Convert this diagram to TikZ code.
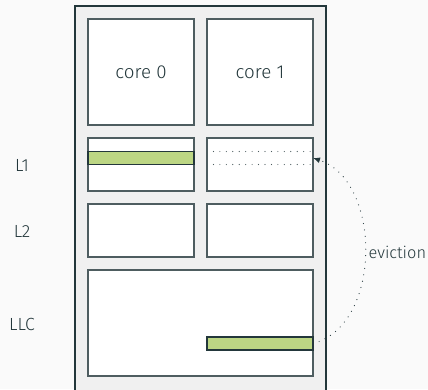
\documentclass[tikz,border=0pt]{standalone}
\usepackage{fontspec}
\setmainfont{Fira Sans}[UprightFont=* Light]
\usepackage{tikz}
\usetikzlibrary{positioning, arrows.meta, fit, backgrounds}
\definecolor{darkteal}{HTML}{23373B}
\definecolor{boxline}{HTML}{4E5D60}
\definecolor{chipgray}{HTML}{F0F0F0}
\definecolor{pagegray}{HTML}{FAFAFA}
\definecolor{linegreen}{HTML}{BCD684}
\tikzset{
  cbox/.style={rectangle, draw=boxline, fill=white, line width=0.9pt,
               inner sep=0pt, outer sep=0pt, minimum width=3.18cm,
               align=center, font=\fontsize{16}{18}\selectfont, text=darkteal},
  corebox/.style={cbox, minimum height=3.18cm},
  cachebox/.style={cbox, minimum height=1.59cm},
  cline/.style={rectangle, draw=darkteal, fill=linegreen, line width=0.9pt,
                inner sep=0pt, outer sep=0pt, minimum width=3.18cm,
                minimum height=0.39cm},
  slot/.style={rectangle, inner sep=0pt, outer sep=0pt,
               minimum width=3.18cm, minimum height=0.39cm},
  chip/.style={rectangle, draw=darkteal, fill=chipgray, line width=0.9pt},
  lvl/.style={font=\fontsize{15}{17}\selectfont, text=darkteal},
  dotline/.style={draw=boxline, line width=1pt, line cap=round,
                  dash pattern=on 0pt off 5.5pt},
  evarr/.style={-{Latex[length=6pt,width=5pt,fill=darkteal]}, draw=darkteal,
                line width=1pt, line cap=round, dash pattern=on 0pt off 5.5pt},
}
\begin{document}
\begin{tikzpicture}[x=0.03cm, y=-0.03cm, node distance=0.39cm]
  \useasboundingbox (0,0) rectangle (428,389);
  % cores
  \node[corebox] (core0) at (141,72) {core 0};
  \node[corebox, right=of core0] (core1) {core 1};
  % private caches
  \node[cachebox, below=of core0] (l1a) {};
  \node[cachebox, below=of core1] (l1b) {};
  \node[cachebox, below=of l1a] (l2a) {};
  \node[cachebox, below=of l1b] (l2b) {};
  % shared cache
  \node[cbox, minimum width=6.75cm, minimum height=3.18cm,
        below right=0.39cm and 0cm of l2a.south west] (llc) {};
  \coordinate[below=0.3cm of llc.south] (dieend);
  \begin{scope}[on background layer]
    \fill[pagegray] (0,0) rectangle (428,389);
    \node[chip, fit=(core0)(core1)(llc)(dieend), inner sep=0.39cm] (die) {};
  \end{scope}
  % levels
  \node[lvl] (l1lbl) at (22,165) {L1};
  \node[lvl] (l2lbl) at (22,231.5) {L2};
  \node[lvl] (llclbl) at (22,324.5) {LLC};
  % cache lines
  \node[cline, below=0.405cm of l1a.north] (l1line) {};
  \node[slot, below=0.405cm of l1b.north] (l1slot) {};
  \draw[dotline] (l1slot.north west) -- (l1slot.north east);
  \draw[dotline] (l1slot.south west) -- (l1slot.south east);
  \node[cline, above left=0.78cm and 0cm of llc.south east] (llcline) {};
  \draw[evarr] (llcline.east) to[out=15, in=-18]
        node[lvl, right, inner sep=2.5pt, font=\fontsize{14}{16}\selectfont] {eviction}
        (l1slot.east);
\end{tikzpicture}
\end{document}
